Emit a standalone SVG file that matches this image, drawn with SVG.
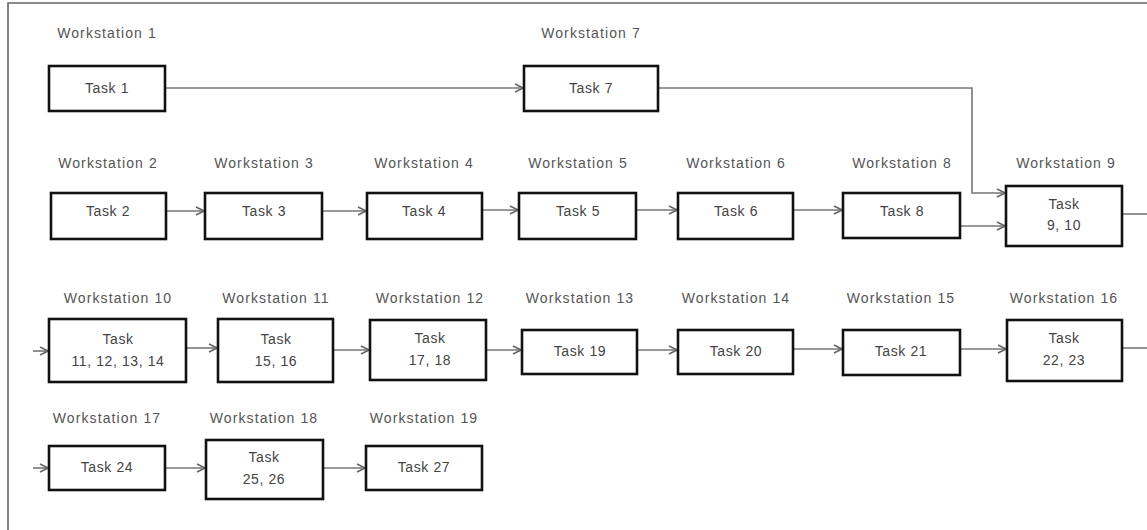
<svg xmlns="http://www.w3.org/2000/svg" width="1147" height="530" viewBox="0 0 1147 530">
<defs>
<marker id="arr" markerWidth="10" markerHeight="10" refX="9" refY="5" orient="auto" markerUnits="userSpaceOnUse">
<path d="M1,1 L9,5 L1,9" fill="none" stroke="#666" stroke-width="1.6"/>
</marker>
<style>
.box{fill:#fff;stroke:#111;stroke-width:2.6}
.ws{font-family:"Liberation Sans",Arial,sans-serif;font-size:14px;fill:#555;text-anchor:middle;letter-spacing:1.1px}
.tk{font-family:"Liberation Sans",Arial,sans-serif;font-size:14px;fill:#444;text-anchor:middle;letter-spacing:0.6px}
.c{fill:none;stroke:#777;stroke-width:1.6}
.ca{fill:none;stroke:#777;stroke-width:1.6;marker-end:url(#arr)}
</style>
</defs>
<rect width="1147" height="530" fill="#fff"/>
<path d="M8,530 L8,3 L1147,3" fill="none" stroke="#666" stroke-width="1.6"/>

<g id="connectors">
<line class="ca" x1="165" y1="88" x2="523" y2="88"/>
<polyline class="ca" points="658,88 972,88 972,193 1005,193"/>
<line class="ca" x1="166" y1="211" x2="204" y2="211"/>
<line class="ca" x1="322" y1="211" x2="366" y2="211"/>
<line class="ca" x1="482" y1="210" x2="518" y2="210"/>
<line class="ca" x1="636" y1="210" x2="677" y2="210"/>
<line class="ca" x1="793" y1="210" x2="842" y2="210"/>
<line class="ca" x1="960" y1="226" x2="1005" y2="226"/>
<line class="c" x1="1122" y1="214" x2="1147" y2="214"/>
<line class="ca" x1="33" y1="351" x2="48" y2="351"/>
<line class="ca" x1="186" y1="348" x2="217" y2="348"/>
<line class="ca" x1="333" y1="350" x2="369" y2="350"/>
<line class="ca" x1="486" y1="350" x2="521" y2="350"/>
<line class="ca" x1="637" y1="350" x2="677" y2="350"/>
<line class="ca" x1="793" y1="349" x2="842" y2="349"/>
<line class="ca" x1="960" y1="349" x2="1006" y2="349"/>
<line class="c" x1="1122" y1="348" x2="1147" y2="348"/>
<line class="ca" x1="33" y1="468" x2="48" y2="468"/>
<line class="ca" x1="165" y1="468" x2="205" y2="468"/>
<line class="ca" x1="323" y1="468" x2="365" y2="468"/>
</g>

<g id="ws1"><text class="ws" x="107" y="38">Workstation 1</text><rect class="box" x="49" y="66" width="116" height="45"/><text class="tk" x="107" y="93">Task 1</text></g>
<g id="ws7"><text class="ws" x="591" y="38">Workstation 7</text><rect class="box" x="524" y="66" width="134" height="45"/><text class="tk" x="591" y="93">Task 7</text></g>

<g id="ws2"><text class="ws" x="108" y="168">Workstation 2</text><rect class="box" x="51" y="193" width="115" height="46"/><text class="tk" x="108" y="216">Task 2</text></g>
<g id="ws3"><text class="ws" x="264" y="168">Workstation 3</text><rect class="box" x="205" y="193" width="117" height="46"/><text class="tk" x="264" y="216">Task 3</text></g>
<g id="ws4"><text class="ws" x="424" y="168">Workstation 4</text><rect class="box" x="367" y="193" width="115" height="46"/><text class="tk" x="424" y="216">Task 4</text></g>
<g id="ws5"><text class="ws" x="578" y="168">Workstation 5</text><rect class="box" x="519" y="193" width="117" height="46"/><text class="tk" x="578" y="216">Task 5</text></g>
<g id="ws6"><text class="ws" x="736" y="168">Workstation 6</text><rect class="box" x="678" y="193" width="115" height="46"/><text class="tk" x="736" y="216">Task 6</text></g>
<g id="ws8"><text class="ws" x="902" y="168">Workstation 8</text><rect class="box" x="843" y="193" width="117" height="45"/><text class="tk" x="902" y="216">Task 8</text></g>
<g id="ws9"><text class="ws" x="1066" y="168">Workstation 9</text><rect class="box" x="1006" y="186" width="116" height="60"/><text class="tk" x="1064" y="209">Task</text><text class="tk" x="1064" y="230">9, 10</text></g>

<g id="ws10"><text class="ws" x="118" y="303">Workstation 10</text><rect class="box" x="49" y="319" width="137" height="63"/><text class="tk" x="118" y="344">Task</text><text class="tk" x="118" y="366">11, 12, 13, 14</text></g>
<g id="ws11"><text class="ws" x="276" y="303">Workstation 11</text><rect class="box" x="218" y="319" width="115" height="63"/><text class="tk" x="276" y="344">Task</text><text class="tk" x="276" y="366">15, 16</text></g>
<g id="ws12"><text class="ws" x="430" y="303">Workstation 12</text><rect class="box" x="370" y="320" width="116" height="60"/><text class="tk" x="430" y="343">Task</text><text class="tk" x="430" y="365">17, 18</text></g>
<g id="ws13"><text class="ws" x="580" y="303">Workstation 13</text><rect class="box" x="522" y="330" width="115" height="44"/><text class="tk" x="580" y="356">Task 19</text></g>
<g id="ws14"><text class="ws" x="736" y="303">Workstation 14</text><rect class="box" x="678" y="330" width="115" height="44"/><text class="tk" x="736" y="356">Task 20</text></g>
<g id="ws15"><text class="ws" x="901" y="303">Workstation 15</text><rect class="box" x="843" y="330" width="117" height="45"/><text class="tk" x="901" y="356">Task 21</text></g>
<g id="ws16"><text class="ws" x="1064" y="303">Workstation 16</text><rect class="box" x="1007" y="320" width="115" height="61"/><text class="tk" x="1064" y="343">Task</text><text class="tk" x="1064" y="365">22, 23</text></g>

<g id="ws17"><text class="ws" x="107" y="423">Workstation 17</text><rect class="box" x="49" y="446" width="116" height="44"/><text class="tk" x="107" y="472">Task 24</text></g>
<g id="ws18"><text class="ws" x="264" y="423">Workstation 18</text><rect class="box" x="206" y="440" width="117" height="59"/><text class="tk" x="264" y="462">Task</text><text class="tk" x="264" y="484">25, 26</text></g>
<g id="ws19"><text class="ws" x="424" y="423">Workstation 19</text><rect class="box" x="366" y="446" width="116" height="44"/><text class="tk" x="424" y="472">Task 27</text></g>
</svg>
